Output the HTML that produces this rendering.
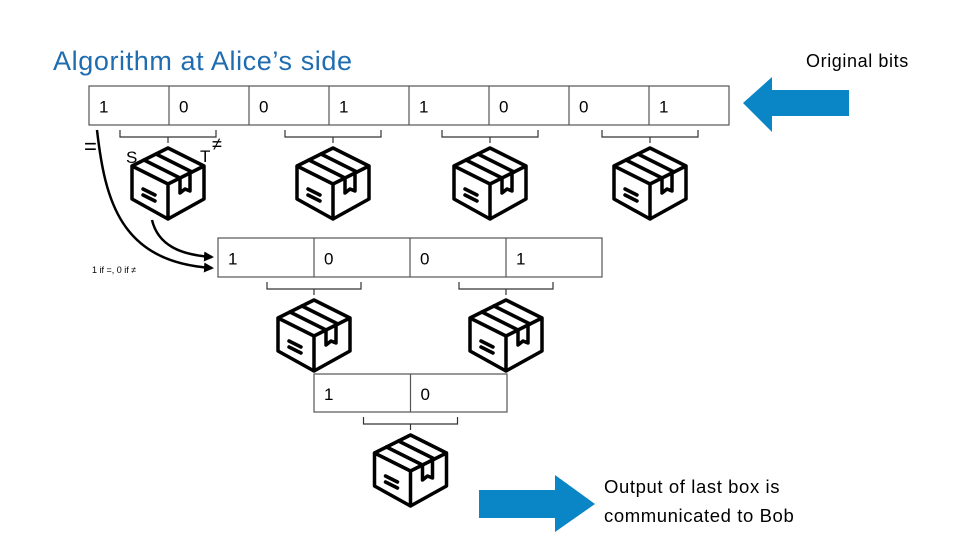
<!DOCTYPE html>
<html><head><meta charset="utf-8"><style>
body{margin:0;background:#fff}
svg{display:block;font-family:"Liberation Sans","DejaVu Sans",sans-serif}
</style></head><body>
<svg width="960" height="540" viewBox="0 0 960 540">
<defs>
<g id="box" stroke="#000" stroke-width="3.5" fill="none" stroke-linejoin="round" stroke-linecap="round">
<path d="M0,0 L36,18 L36,51 L0,71 L-36,51 L-36,18 Z M-36,18 L0,36 L36,18 M0,36 L0,71"/>
<path d="M-24,12 L12,30 M-12,6 L24,24"/>
<path d="M12,30 L12,45 L17,41 L22,43 L22,26"/>
<path d="M-25,41 L-13,47 M-25,47 L-13,53"/>
</g>
<marker id="ah" markerWidth="10" markerHeight="10" refX="8" refY="5" orient="auto" markerUnits="userSpaceOnUse"><path d="M0,0 L10,5 L0,10 Z" fill="#000"/></marker>
</defs>
<text x="53" y="70" font-size="27" letter-spacing="0.6" fill="#1f6db0">Algorithm at Alice’s side</text>
<text x="806" y="67" font-size="18" letter-spacing="0.6" fill="#000">Original bits</text>
<path d="M743,103 L772,77 L772,90 L849,90 L849,116 L772,116 L772,132 Z" fill="#0a86c6"/>
<g id="rows" stroke="#555" stroke-width="1.2" fill="none" font-size="17"></g>
<g font-size="17">
<text x="84" y="154" font-size="22">=</text>
<text x="126" y="163">S</text>
<text x="200" y="162">T</text>
<text x="212" y="150" font-size="18">≠</text>
<text x="92" y="273" font-size="9">1 if =, 0 if ≠</text>
</g>
<path d="M97,130 C105,200 120,262 212,268" stroke="#000" stroke-width="2.5" fill="none" marker-end="url(#ah)"/>
<path d="M152,220 C158,245 180,255 212,257" stroke="#000" stroke-width="2.5" fill="none" marker-end="url(#ah)"/>
<path d="M479,490 L555,490 L555,475 L595,504 L555,532 L555,518 L479,518 Z" fill="#0a86c6"/>
<text x="604" y="493" font-size="18.5" letter-spacing="0.6">Output of last box is</text>
<text x="604" y="522" font-size="18.5" letter-spacing="0.6">communicated to Bob</text>
</svg>
<script>
const rowBits=[[1,0,0,1,1,0,0,1],[1,0,0,1],[1,0]];
const rowX=[89,218,314], rowY=[86,238,374], rowW=[80,96,96.5], rowH=[39,39,38];
const brTop=[[120,216],[285,381],[442,538],[602,698]];
const ns='http://www.w3.org/2000/svg';
const svg=document.querySelector('svg');
const g=document.getElementById('rows');
function mk(t,a){const e=document.createElementNS(ns,t);for(const k in a)e.setAttribute(k,a[k]);return e;}
rowBits.forEach((bits,r)=>{
  const x0=rowX[r],y0=rowY[r],w=rowW[r],h=rowH[r];
  const rect=mk('rect',{x:x0,y:y0,width:w*bits.length,height:h});
  
  
  g.appendChild(rect);
  bits.forEach((b,i)=>{
    if(i>0){const l=mk('line',{x1:x0+w*i,y1:y0,x2:x0+w*i,y2:y0+h});g.appendChild(l);}
    const t=mk('text',{x:x0+w*i+10,y:y0+h/2+7,fill:'#000',stroke:'none'});
    t.textContent=b;
    
    
    g.appendChild(t);
  });
  for(let p=0;p<bits.length/2;p++){
    let a,c;
    if(r===0){a=brTop[p][0];c=brTop[p][1];}
    else{const cx=x0+w*(2*p+1);a=cx-47;c=cx+47;}
    const by=y0+h+12, m=(a+c)/2;
    const br=mk('path',{d:`M${a},${by-7} L${a},${by} L${c},${by} L${c},${by-7} M${m},${by} L${m},${by+6}`,stroke:'#333'});
    
    
    g.appendChild(br);
    const u=mk('use',{href:'#box',transform:`translate(${m},${by+11})`});
    
    
    svg.appendChild(u);
  }
});
</script>
</body></html>
